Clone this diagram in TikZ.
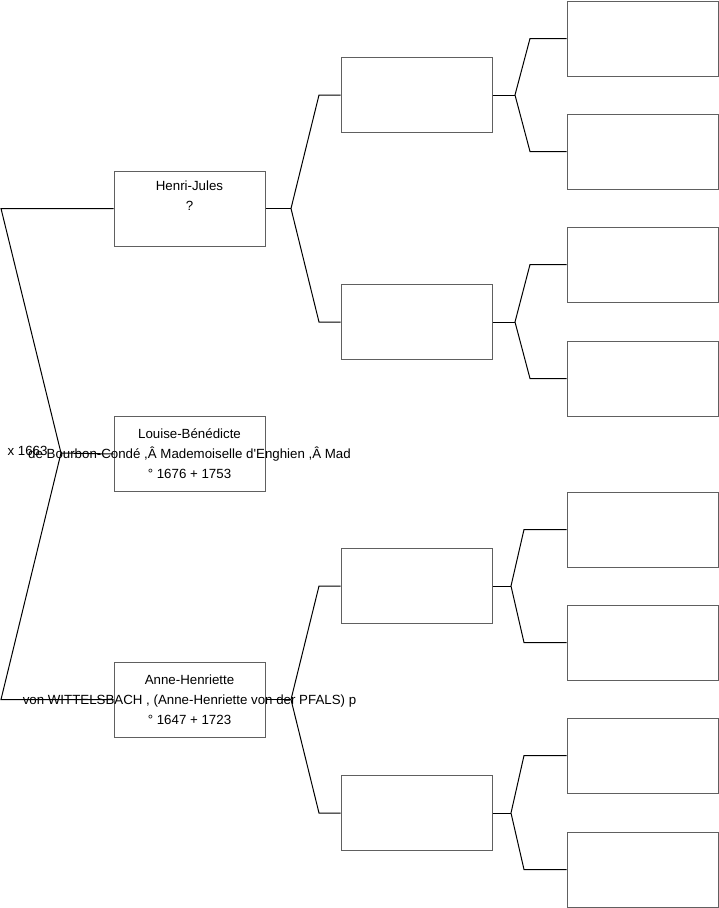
\documentclass[tikz,border=0pt]{standalone}
\usepackage{fontspec}
\setmainfont{Liberation Sans}[Ligatures=TeXOff]
\usepackage{tikz}
\usepackage{xcolor}

\begin{document}
\begin{tikzpicture}[x=1pt, y=-1pt, every node/.style={font=\fontsize{13.3}{20}\selectfont},
    person/.style={draw=gray!75!black, line width=1pt, minimum width=151pt, minimum height=75pt, inner sep=0pt, align=center},
    link/.style={line width=1pt}]
    \useasboundingbox (0,0) rectangle (719,908);

    % parents
    \node[person] (father) at (189.5,208.5) {Henri-Jules\\?\\\strut};
    \node[person] (child) at (189.5,454) {Louise-Bénédicte\\\makebox[0pt][c]{de Bourbon-Condé ,Â Mademoiselle d'Enghien ,Â Mad}\\° 1676 + 1753};
    \node[person] (mother) at (189.5,699.5) {Anne-Henriette\\\makebox[0pt][c]{von WITTELSBACH , (Anne-Henriette von der PFALS) p}\\° 1647 + 1723};
    \node[anchor=west] (marriage) at (4,451) {x 1663};

    % grandparents
    \node[person] (gf1) at (416.5,95) {};
    \node[person] (gm1) at (416.5,322) {};
    \node[person] (gf2) at (416.5,586) {};
    \node[person] (gm2) at (416.5,813) {};

    % great-grandparents
    \node[person] (ggf1) at (642.5,38.5) {};
    \node[person] (ggm1) at (642.5,151.5) {};
    \node[person] (ggf2) at (642.5,264.5) {};
    \node[person] (ggm2) at (642.5,378.5) {};
    \node[person] (ggf3) at (642.5,529.5) {};
    \node[person] (ggm3) at (642.5,642.5) {};
    \node[person] (ggf4) at (642.5,755.5) {};
    \node[person] (ggm4) at (642.5,869.5) {};

    % bracket of the child
    \coordinate (k0) at (61,453);
    \coordinate (k0a) at (1,208.5);
    \coordinate (k0b) at (1,699.5);
    \draw[link] (father.west) -- (k0a) -- (k0) -- (k0b) -- (mother.west);
    \draw[link] (k0) -- (child.west);

    % brackets of the parents
    \coordinate (k1) at (291,208.5);
    \draw[link] (father.east) -- (k1);
    \draw[link] (gf1.west) -- (319,95) -- (k1) -- (319,322) -- (gm1.west);
    \coordinate (k2) at (291,699.5);
    \draw[link] (mother.east) -- (k2);
    \draw[link] (gf2.west) -- (319,586) -- (k2) -- (319,813) -- (gm2.west);

    % brackets of the grandparents
    \coordinate (k3) at (515,95);
    \draw[link] (gf1.east) -- (k3);
    \draw[link] (ggf1.west) -- (530,38.5) -- (k3) -- (530,151.5) -- (ggm1.west);
    \coordinate (k4) at (515,322);
    \draw[link] (gm1.east) -- (k4);
    \draw[link] (ggf2.west) -- (530,264.5) -- (k4) -- (530,378.5) -- (ggm2.west);
    \coordinate (k5) at (511,586);
    \draw[link] (gf2.east) -- (k5);
    \draw[link] (ggf3.west) -- (524,529.5) -- (k5) -- (524,642.5) -- (ggm3.west);
    \coordinate (k6) at (511,813);
    \draw[link] (gm2.east) -- (k6);
    \draw[link] (ggf4.west) -- (524,755.5) -- (k6) -- (524,869.5) -- (ggm4.west);
\end{tikzpicture}
\end{document}
